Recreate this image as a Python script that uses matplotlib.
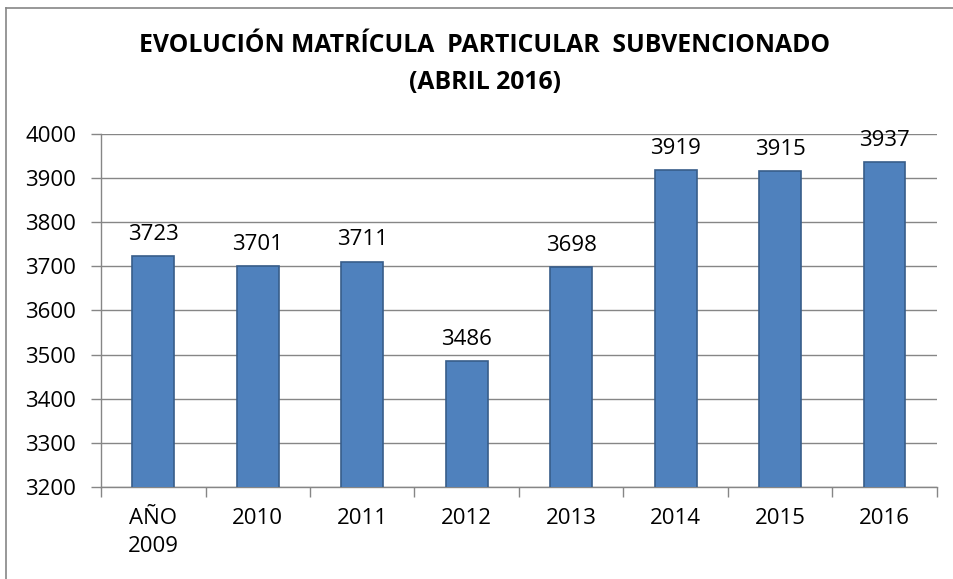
import matplotlib.pyplot as plt
import numpy as np
from matplotlib.lines import Line2D

# datos
categorias = ["AÑO\n2009", "2010", "2011", "2012", "2013", "2014", "2015", "2016"]
matricula = [3723, 3701, 3711, 3486, 3698, 3919, 3915, 3937]
yticks = [3200, 3300, 3400, 3500, 3600, 3700, 3800, 3900, 4000]

plt.rcParams['font.family'] = ['Open Sans', 'DejaVu Sans']

fig = plt.figure(figsize=(9.54, 5.79), dpi=100)
ax = fig.add_axes([0.1059, 0.1589, 0.982 - 0.1059, 0.7686 - 0.1589])

x = np.arange(len(categorias))
ax.bar(x, matricula, width=0.4, color='#4F81BD', edgecolor='#385D8A', linewidth=1.2, zorder=3)

for xi, v in zip(x, matricula):
    ax.annotate(str(v), (xi, v), xytext=(0, 8), textcoords='offset points',
                ha='center', va='bottom', fontsize=16, color='black', zorder=4)

ax.set_ylim(3200, 4000)
ax.set_xlim(-0.5, len(categorias) - 0.5)
ax.set_yticks(yticks)
ax.set_xticks(x)
ax.set_xticklabels(categorias, fontsize=16, linespacing=1.45)
ax.set_xticks(np.arange(len(categorias) + 1) - 0.5, minor=True)
ax.tick_params(axis='x', which='major', length=0, pad=15)
ax.tick_params(axis='x', which='minor', length=7, color='#868686', width=1)
ax.tick_params(axis='y', length=7, color='#868686', width=1, labelsize=16, pad=11)

ax.grid(axis='y', color='#868686', linewidth=1, zorder=0)
ax.set_axisbelow(True)
for s in ['top', 'right']:
    ax.spines[s].set_visible(False)
for s in ['left', 'bottom']:
    ax.spines[s].set_color('#868686')
    ax.spines[s].set_linewidth(1)

fig.text(0.508, 0.922, "EVOLUCIÓN MATRÍCULA  PARTICULAR  SUBVENCIONADO",
         ha='center', va='center', fontsize=17.8, fontweight='bold')
fig.text(0.508, 0.857, "(ABRIL 2016)", ha='center', va='center', fontsize=17.8, fontweight='bold')

# borde del gráfico
fig.add_artist(Line2D([6 / 954, 1], [1 - 8 / 579, 1 - 8 / 579], color='#868686', linewidth=1.2, transform=fig.transFigure))
fig.add_artist(Line2D([6 / 954, 6 / 954], [0, 1 - 8 / 579], color='#868686', linewidth=1.2, transform=fig.transFigure))

fig.savefig('out.png', dpi=100)
